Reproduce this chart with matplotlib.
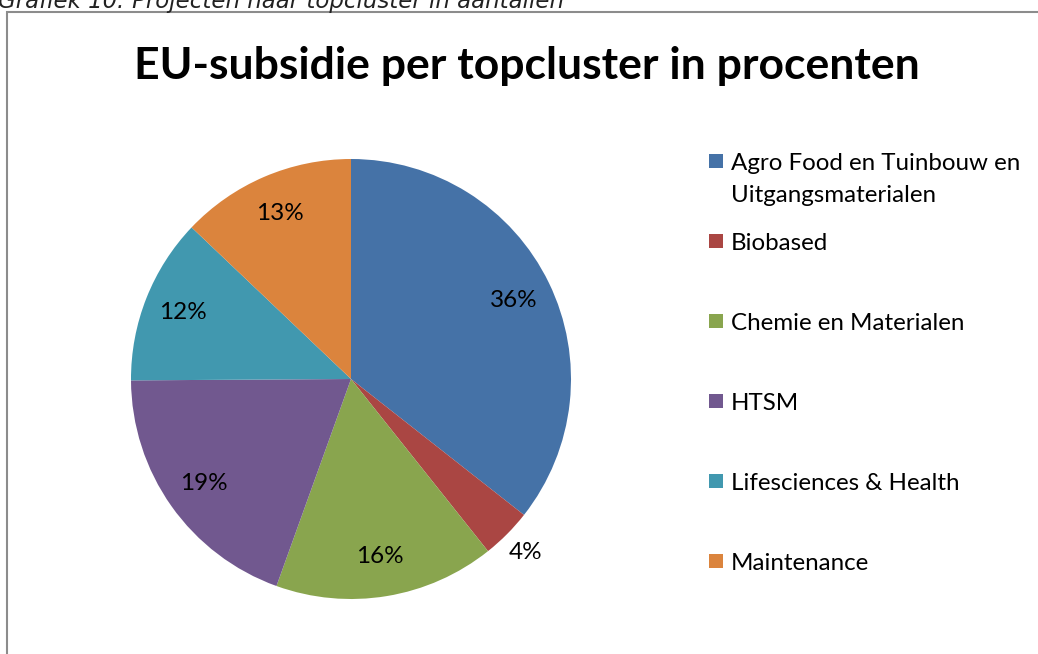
import matplotlib
matplotlib.use("Agg")
import matplotlib.pyplot as plt
from matplotlib.patches import Rectangle
import numpy as np

labels = ["Agro Food en Tuinbouw en\nUitgangsmaterialen", "Biobased", "Chemie en Materialen",
          "HTSM", "Lifesciences & Health", "Maintenance"]
values = [35.6, 3.7, 16.2, 19.4, 12.2, 12.9]
colors = ["#4572A7", "#AA4643", "#89A54E", "#71588F", "#4198AF", "#DB843D"]
title = "EU-subsidie per topcluster in procenten"
caption = "Grafiek 10: Projecten naar topcluster in aantallen"

W, H = 1038, 654
fig = plt.figure(figsize=(W / 100, H / 100), dpi=100)
fig.patch.set_facecolor("white")

# chart frame
frame = Rectangle((6.5 / W, -0.1), 1.2, (H - 12) / H + 0.1, transform=fig.transFigure,
                  fill=False, edgecolor="#8c8c8c", linewidth=1.5)
fig.add_artist(frame)

# caption partially cut off at top (as in the source image)
fig.text(-0.002, 1 - 8 / H, caption, fontsize=16.5, style="italic", family="DejaVu Sans",
         color="#222222", va="baseline", ha="left")

fig.text(527 / W, 1 - 66 / H, title, fontsize=32, fontweight="bold", family="Lato",
         ha="center", va="center", color="black")

ax = fig.add_axes([131 / W, 55 / H, 440 / W, 440 / H])
wedges, texts, autotexts = ax.pie(values, colors=colors, startangle=90, counterclock=False,
                                  autopct="%.0f%%", pctdistance=0.82,
                                  wedgeprops=dict(linewidth=0),
                                  textprops=dict(fontsize=17.5, family="Lato", color="black"))
cum = np.cumsum([0] + values)
i = 1
mid = 90 - (cum[i] + values[i] / 2) / 100 * 360
r = 1.12
autotexts[i].set_position((r * np.cos(np.radians(mid)), r * np.sin(np.radians(mid))))
ax.set_xlim(-1, 1)
ax.set_ylim(-1, 1)
ax.set_aspect("equal")
ax.axis("off")

# legend
baselines = [170, 250, 330, 410, 490, 570]
for lab, col, yb in zip(labels, colors, baselines):
    fig.add_artist(Rectangle((709 / W, 1 - (yb - 2) / H), 14 / W, 14 / H,
                             transform=fig.transFigure, facecolor=col, edgecolor="none"))
    for k, line in enumerate(lab.split("\n")):
        fig.text(731 / W, 1 - (yb + 32 * k) / H, line, fontsize=17.4, family="Lato",
                 ha="left", va="baseline", color="black")

fig.savefig("out.png", dpi=100)
